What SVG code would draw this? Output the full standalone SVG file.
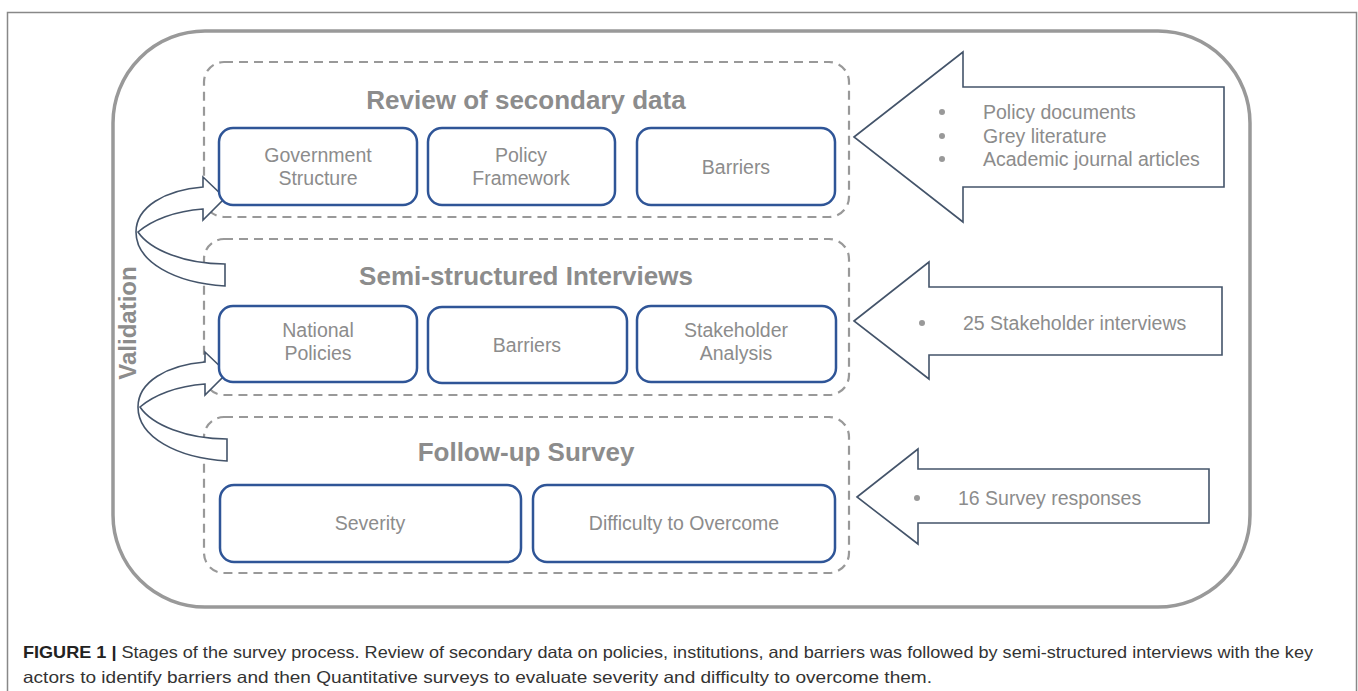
<svg xmlns="http://www.w3.org/2000/svg" width="1358" height="691" viewBox="0 0 1358 691">
<style>
.t{font-family:"Liberation Sans",Arial,sans-serif;fill:#8c8c8c}
.box{fill:#fff;stroke:#2f5597;stroke-width:2.5}
.grp{fill:none;stroke:#999;stroke-width:2.2;stroke-dasharray:9,6}
.blk{fill:#fff;stroke:#44546a;stroke-width:1.6}
.bul{fill:#999}
.title{font-size:26px;font-weight:bold;text-anchor:middle}
.lbl{font-size:19.5px;text-anchor:middle}
.side{font-size:19.5px}
</style>
<rect x="7.5" y="12.5" width="1349" height="700" fill="#fff" stroke="#888" stroke-width="1.5"/>
<rect id="outer" x="113" y="31" width="1137" height="576" rx="92" fill="none" stroke="#999" stroke-width="3.5"/>
<text class="t" x="0" y="0" font-size="24" font-weight="bold" text-anchor="middle" transform="translate(136,323) rotate(-90)">Validation</text>

<g id="stage1">
<rect class="grp" x="204" y="62" width="645" height="155" rx="20"/>
<text class="t title" x="526" y="109">Review of secondary data</text>
</g>
<g id="stage2">
<rect class="grp" x="204" y="239" width="645" height="156" rx="20"/>
<text class="t title" x="526" y="285">Semi-structured Interviews</text>
</g>
<g id="stage3">
<rect class="grp" x="204" y="417" width="645" height="156" rx="20"/>
<text class="t title" x="526" y="461">Follow-up Survey</text>
</g>

<g id="connectors">
<path class="blk" d="M225,286 C175,283 136,262 136,232 C136,207 165,190 203,187 L203,177 L225,198 L203,220 L203,209 C175,211 152,220 138,232 C150,250 185,264 225,264 Z"/>
<path class="blk" transform="translate(2,175)" d="M225,286 C175,283 136,262 136,232 C136,207 165,190 203,187 L203,177 L225,198 L203,220 L203,209 C175,211 152,220 138,232 C150,250 185,264 225,264 Z"/>
</g>

<g id="gov"><rect class="box" x="219" y="128" width="198" height="77" rx="14"/>
<text class="t lbl" x="318" y="162">Government</text><text class="t lbl" x="318" y="185">Structure</text></g>
<g id="policy"><rect class="box" x="428" y="128" width="187" height="77" rx="14"/>
<text class="t lbl" x="521" y="162">Policy</text><text class="t lbl" x="521" y="185">Framework</text></g>
<g id="barriers1"><rect class="box" x="637" y="128" width="198" height="77" rx="14"/>
<text class="t lbl" x="736" y="174">Barriers</text></g>

<g id="national"><rect class="box" x="219" y="306" width="198" height="76" rx="14"/>
<text class="t lbl" x="318" y="337">National</text><text class="t lbl" x="318" y="360">Policies</text></g>
<g id="barriers2"><rect class="box" x="428" y="307" width="199" height="76" rx="14"/>
<text class="t lbl" x="527" y="352">Barriers</text></g>
<g id="stakeholder"><rect class="box" x="637" y="306" width="199" height="76" rx="14"/>
<text class="t lbl" x="736" y="337">Stakeholder</text><text class="t lbl" x="736" y="360">Analysis</text></g>

<g id="severity"><rect class="box" x="220" y="485" width="301" height="77" rx="14"/>
<text class="t lbl" x="370" y="530">Severity</text></g>
<g id="difficulty"><rect class="box" x="533" y="485" width="302" height="77" rx="14"/>
<text class="t lbl" x="684" y="530">Difficulty to Overcome</text></g>

<g id="src1">
<polygon class="blk" points="854,137 963,52 963,87 1224,87 1224,187 963,187 963,222"/>
<circle class="bul" cx="942" cy="112" r="3"/><circle class="bul" cx="942" cy="136" r="3"/><circle class="bul" cx="942" cy="159" r="3"/>
<text class="t side" x="983" y="119">Policy documents</text>
<text class="t side" x="983" y="143">Grey literature</text>
<text class="t side" x="983" y="166">Academic journal articles</text>
</g>
<g id="src2">
<polygon class="blk" points="854,321 929,262 929,287 1222,287 1222,355 929,355 929,379"/>
<circle class="bul" cx="922" cy="323" r="3"/>
<text class="t side" x="963" y="330">25 Stakeholder interviews</text>
</g>
<g id="src3">
<polygon class="blk" points="857,497 918,449 918,469 1209,469 1209,523 918,523 918,544"/>
<circle class="bul" cx="917" cy="498" r="3"/>
<text class="t side" x="958" y="505">16 Survey responses</text>
</g>

<text x="23" y="658" font-family="'Liberation Sans',Arial,sans-serif" font-size="16.5" fill="#333" textLength="1290" lengthAdjust="spacingAndGlyphs"><tspan font-weight="bold" fill="#222">FIGURE 1 | </tspan>Stages of the survey process. Review of secondary data on policies, institutions, and barriers was followed by semi-structured interviews with the key</text>
<text x="23" y="683" font-family="'Liberation Sans',Arial,sans-serif" font-size="16.5" fill="#333" textLength="909" lengthAdjust="spacingAndGlyphs">actors to identify barriers and then Quantitative surveys to evaluate severity and difficulty to overcome them.</text>
</svg>
